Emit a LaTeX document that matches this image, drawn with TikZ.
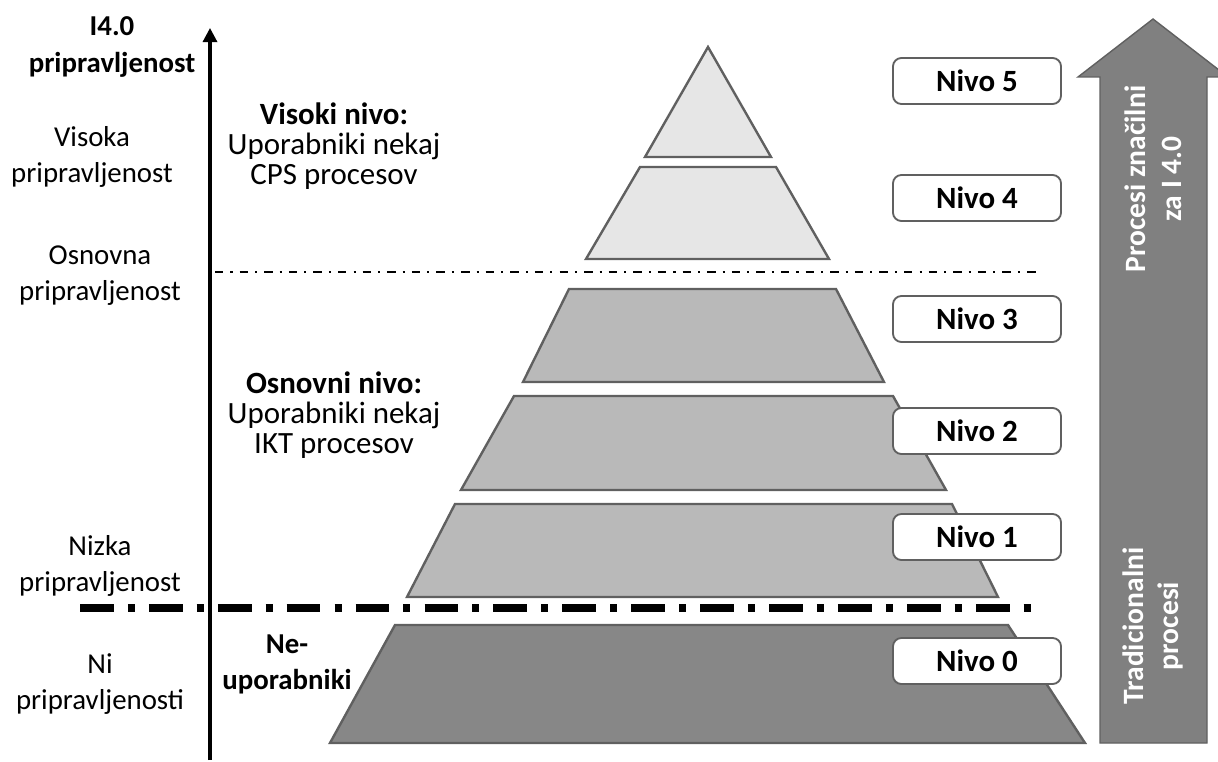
\documentclass[tikz,border=0pt]{standalone}
\usepackage{fontspec}
\setmainfont{Carlito}
\usepackage{tikz}
\usetikzlibrary{arrows.meta,positioning,calc}
\definecolor{edge}{HTML}{606060}
\definecolor{toplight}{HTML}{E6E6E6}
\definecolor{midgray}{HTML}{B9B9B9}
\definecolor{lowgray}{HTML}{878787}
\definecolor{bigarrow}{HTML}{808080}

\begin{document}
\begin{tikzpicture}[x=0.025cm,y=-0.025cm,>={Triangle[length=10pt,width=10pt]},
        tier/.style={draw=edge,line width=1.7pt,line join=miter},
        lbl/.style={font=\fontsize{20.5}{25.5}\selectfont,align=center,text=black},
        grp/.style={font=\fontsize{22}{21.3}\selectfont,align=center,text=black},
        nivo/.style={draw=edge,fill=white,rounded corners=6pt,line width=1.3pt,
                     minimum width=4.2cm,minimum height=1.15cm,
                     font=\fontsize{22}{24}\selectfont\bfseries},
        arrtxt/.style={font=\fontsize{21}{25.5}\selectfont\bfseries,text=white,
                       align=center,rotate=90}]
      \useasboundingbox (0,0) rectangle (1218,762);
      % axis
      \draw[->,line width=2.2pt] (210,760) -- (210,28);
      \node[lbl,font=\fontsize{20.5}{26}\selectfont\bfseries] (axis) at (112,47) {I4.0\\pripravljenost};
      \node[lbl] (visoka) at (92,157) {Visoka\\pripravljenost};
      \node[lbl] (osnovna) at (100,276) {Osnovna\\pripravljenost};
      \node[lbl] (nizka) at (100,566) {Nizka\\pripravljenost};
      \node[lbl] (ni) at (100,684) {Ni\\pripravljenosti};
      % pyramid
      \draw[tier,fill=toplight] (708,47) -- (771,157) -- (645,157) -- cycle;
      \draw[tier,fill=toplight] (640,167) -- (776,167) -- (829,259) -- (586,259) -- cycle;
      \draw[tier,fill=midgray] (569,289) -- (836,289) -- (884,382) -- (523,382) -- cycle;
      \draw[tier,fill=midgray] (514,396) -- (893,396) -- (946,490) -- (461,490) -- cycle;
      \draw[tier,fill=midgray] (455,504) -- (952,504) -- (998,597) -- (407,597) -- cycle;
      \draw[tier,fill=lowgray] (395,625) -- (1008,625) -- (1085,743) -- (330,743) -- cycle;
      % borders between levels
      \draw[line width=0.9pt,dash pattern=on 6pt off 5pt on 1.5pt off 5pt] (215,272) -- (1041,272);
      \draw[line width=5.5pt,dash pattern=on 24pt off 10pt on 5pt off 10pt] (80,608) -- (1035,608);
      % group labels
      \node[grp] (visoki) at (334,146) {\textbf{Visoki nivo:}\\Uporabniki nekaj\\CPS procesov};
      \node[grp] (osnovni) at (334,415) {\textbf{Osnovni nivo:}\\Uporabniki nekaj\\IKT procesov};
      \node[lbl,font=\fontsize{20.5}{25.5}\selectfont\bfseries] (neup) at (287,664) {Ne-\\uporabniki};
      % level boxes
      \node[nivo] (n5) at (977,81) {Nivo 5};
      \node[nivo] (n4) at (977,198) {Nivo 4};
      \node[nivo] (n3) at (977,319) {Nivo 3};
      \node[nivo] (n2) at (977,431) {Nivo 2};
      \node[nivo] (n1) at (977,537) {Nivo 1};
      \node[nivo] (n0) at (977,661) {Nivo 0};
      % process arrow
      \draw[draw=edge,fill=bigarrow,line width=1pt]
        (1100,743) -- (1100,77) -- (1078,77) -- (1153,19) -- (1228,77) -- (1207,77) -- (1207,743) -- cycle;
      \node[arrtxt] (i40) at (1153,179) {Procesi značilni\\za I 4.0};
      \node[arrtxt] (trad) at (1153,626) {Tradicionalni\\procesi};
    \end{tikzpicture}
\end{document}
